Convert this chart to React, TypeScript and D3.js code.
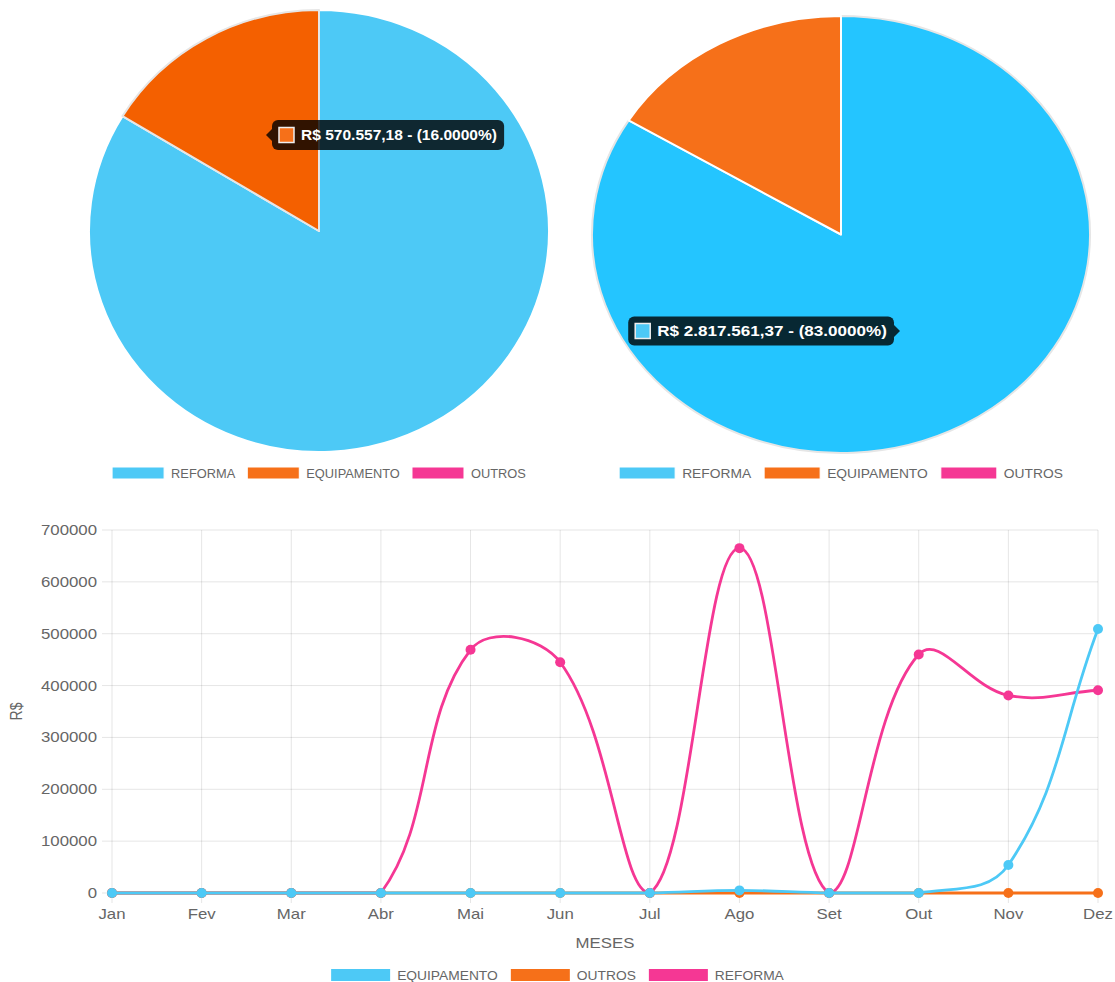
import React from 'react';
import * as d3 from 'd3';

// ---------- DATA ----------
const pieLabels = ['REFORMA', 'EQUIPAMENTO', 'OUTROS'];
const pieColors = ['#4dc9f6', '#f67019', '#f53794'];
const pie1Values = [2929790.0, 570557.18, 0];
const pie2Values = [2817561.37, 546700.0, 0];

const months = ['Jan', 'Fev', 'Mar', 'Abr', 'Mai', 'Jun', 'Jul', 'Ago', 'Set', 'Out', 'Nov', 'Dez'];
const seriesLabels = ['EQUIPAMENTO', 'OUTROS', 'REFORMA'];
const seriesColors = ['#4dc9f6', '#f67019', '#f53794'];
const equipamento = [0, 0, 0, 0, 0, 0, 0, 5000, 0, 0, 54000, 509000];
const outros = [0, 0, 0, 0, 0, 0, 0, 0, 0, 0, 0, 0];
const reforma = [0, 0, 0, 0, 469000, 445000, 0, 665000, 0, 460000, 381000, 391000];
const yTicks = [0, 100000, 200000, 300000, 400000, 500000, 600000, 700000];

// ---------- HELPERS ----------
const FONT = "'Liberation Sans', Arial, Helvetica, sans-serif";
let _ctx: CanvasRenderingContext2D | null = null;
function measure(text: string, font: string) {
  if (!_ctx) _ctx = document.createElement('canvas').getContext('2d');
  _ctx!.font = font;
  return _ctx!.measureText(text).width;
}
function hoverColor(c: string) {
  const h = d3.hsl(c);
  h.s = Math.min(1, h.s * 1.5);
  h.l = h.l * 0.9;
  return h.formatHex();
}
function fmtBRL(v: number) {
  const [i, d] = v.toFixed(2).split('.');
  return 'R$ ' + i.replace(/\B(?=(\d{3})+(?!\d))/g, '.') + ',' + d;
}

function Legend({ items, colors, cx, cy, boxW, sx, gap2, pie }: any) {
  const fs = 12;
  const widths = items.map((t: string) => measure(t, `${fs}px ${FONT}`) * sx);
  const gap1 = 7;
  const total = d3.sum(widths, (w: number) => boxW + gap1 + w) + gap2 * (items.length - 1);
  let x = cx - total / 2;
  const out: any[] = [];
  items.forEach((t: string, i: number) => {
    out.push(
      <g key={t}>
        <rect x={x} y={cy - 6} width={boxW} height={12} fill={colors[i]}
          stroke={pie ? '#fff' : colors[i]} strokeWidth={pie ? 1 : 0} />
        <text transform={`translate(${x + boxW + gap1},${cy + 4.5}) scale(${sx},1)`}
          fontSize={fs} fill="#666" fontFamily={FONT}>{t}</text>
      </g>
    );
    x += boxW + gap1 + widths[i] + gap2;
  });
  return <g>{out}</g>;
}

function Tooltip({ tipX, tipY, side, color, text, sx, h }: any) {
  const fs = 14;
  const tw = measure(text, `bold ${fs}px ${FONT}`) * sx;
  const pad = 7, sq = 15, caret = 6;
  const w = pad + sq + 7 + tw + pad;
  const bx = side === 'left' ? tipX + caret : tipX - caret - w;
  const by = tipY - h / 2;
  const caretPath = side === 'left'
    ? `M${tipX},${tipY} L${bx},${tipY - caret} L${bx},${tipY + caret} Z`
    : `M${tipX},${tipY} L${bx + w},${tipY - caret} L${bx + w},${tipY + caret} Z`;
  return (
    <g>
      <rect x={bx} y={by} width={w} height={h} rx={6} fill="rgba(0,0,0,0.8)" />
      <path d={caretPath} fill="rgba(0,0,0,0.8)" />
      <rect x={bx + pad} y={tipY - sq / 2} width={sq} height={sq} fill={color} stroke="#eee" strokeWidth={1.5} />
      <text transform={`translate(${bx + pad + sq + 7},${tipY + 5}) scale(${sx},1)`}
        fontSize={fs} fontWeight="bold" fill="#fff" fontFamily={FONT}>{text}</text>
    </g>
  );
}

function Pie({ values, cx, cy, r, sx, hovered }: any) {
  const arcs = d3.pie<number>().sort(null).startAngle(0).endAngle(2 * Math.PI)(values);
  const arcGen = d3.arc<d3.PieArcDatum<number>>().innerRadius(0).outerRadius(r);
  const order = arcs.map((_, i) => i).filter((i) => values[i] > 0);
  return (
    <g transform={`translate(${cx},${cy}) scale(${sx},1)`}>
      {order.map((i) => (
        <path key={i} d={arcGen(arcs[i]) || ''}
          fill={i === hovered ? hoverColor(pieColors[i]) : pieColors[i]}
          stroke={i === hovered ? '#e6e6e6' : '#fff'} strokeWidth={2}
          vectorEffect="non-scaling-stroke" strokeLinejoin="round" />
      ))}
    </g>
  );
}

function splinePath(pts: [number, number][], t: number, area: any) {
  const clamp = (p: number[]) => [
    Math.max(area.left, Math.min(area.right, p[0])),
    Math.max(area.top, Math.min(area.bottom, p[1])),
  ];
  const cps = pts.map((p, i) => {
    const prev = pts[i - 1] ?? p;
    const next = pts[i + 1] ?? p;
    const d01 = Math.hypot(p[0] - prev[0], p[1] - prev[1]);
    const d12 = Math.hypot(next[0] - p[0], next[1] - p[1]);
    let s01 = d01 / (d01 + d12);
    let s12 = d12 / (d01 + d12);
    if (isNaN(s01)) s01 = 0;
    if (isNaN(s12)) s12 = 0;
    const fa = t * s01, fb = t * s12;
    return {
      cp1: clamp([p[0] - fa * (next[0] - prev[0]), p[1] - fa * (next[1] - prev[1])]),
      cp2: clamp([p[0] + fb * (next[0] - prev[0]), p[1] + fb * (next[1] - prev[1])]),
    };
  });
  const path = d3.path();
  path.moveTo(pts[0][0], pts[0][1]);
  for (let i = 1; i < pts.length; i++) {
    path.bezierCurveTo(cps[i - 1].cp2[0], cps[i - 1].cp2[1], cps[i].cp1[0], cps[i].cp1[1], pts[i][0], pts[i][1]);
  }
  return path.toString();
}

function LineChart() {
  const area = { left: 112, right: 1098, top: 530, bottom: 893 };
  const x = d3.scalePoint<string>().domain(months).range([area.left, area.right]);
  const y = d3.scaleLinear().domain([0, 700000]).range([area.bottom, area.top]);
  const series = [equipamento, outros, reforma];
  const sxT = 1.2;
  return (
    <g fontFamily={FONT}>
      {yTicks.map((v) => (
        <g key={v}>
          <line x1={area.left - 10} x2={area.right} y1={y(v)} y2={y(v)} stroke="rgba(0,0,0,0.1)" strokeWidth={1} />
          <text transform={`translate(${area.left - 15},${y(v) + 5}) scale(${sxT},1)`} textAnchor="end" fontSize={14} fill="#666">{v}</text>
        </g>
      ))}
      {months.map((m) => (
        <g key={m}>
          <line x1={x(m)!} x2={x(m)!} y1={area.top} y2={area.bottom + 10} stroke="rgba(0,0,0,0.1)" strokeWidth={1} />
          <text transform={`translate(${x(m)},${area.bottom + 26}) scale(${sxT},1)`} textAnchor="middle" fontSize={14} fill="#666">{m}</text>
        </g>
      ))}
      <text transform={`translate(${22},${(area.top + area.bottom) / 2}) rotate(-90) scale(1,1.15)`} textAnchor="middle" fontSize={14} fill="#666">R$</text>
      <text transform={`translate(${(area.left + area.right) / 2},${area.bottom + 55}) scale(${sxT},1)`} textAnchor="middle" fontSize={14} fill="#666">MESES</text>
      {[2, 1, 0].map((si) => {
        const pts = series[si].map((v, i) => [x(months[i])!, y(v)] as [number, number]);
        return (
          <g key={si}>
            <path d={splinePath(pts, 0.4, area)} fill="none" stroke={seriesColors[si]} strokeWidth={2.8} />
            {pts.map((p, i) => (
              <circle key={i} cx={p[0]} cy={p[1]} r={5} fill={seriesColors[si]} />
            ))}
          </g>
        );
      })}
      <Legend items={seriesLabels} colors={seriesColors} cx={557.5} cy={975} boxW={59} sx={1.15} gap2={13} />
    </g>
  );
}

export default function App() {
  const t1 = pie1Values[1] / d3.sum(pie1Values) * 100;
  const t2 = pie2Values[0] / d3.sum(pie2Values) * 100;
  return (
    <svg width={1115} height={982} style={{ position: 'absolute', left: 0, top: 0, background: '#fff' }}>
      <Pie values={pie1Values} cx={319} cy={231} r={221} sx={230 / 221} hovered={1} />
      <Pie values={pie2Values} cx={841} cy={234.5} r={218.5} sx={249 / 218.5} hovered={0} />
      <Legend items={pieLabels} colors={pieColors} cx={319} cy={473} boxW={52} sx={1.07} gap2={12} pie />
      <Legend items={pieLabels} colors={pieColors} cx={841} cy={473} boxW={56} sx={1.15} gap2={13} pie />
      <Tooltip tipX={266} tipY={135} side="left" color={pieColors[1]}
        text={`${fmtBRL(pie1Values[1])} - (${Math.floor(t1).toFixed(4)}%)`} sx={1.11} h={30} />
      <Tooltip tipX={900} tipY={331} side="right" color={pieColors[0]}
        text={`${fmtBRL(pie2Values[0])} - (${Math.floor(t2).toFixed(4)}%)`} sx={1.22} h={29} />
      <LineChart />
    </svg>
  );
}
